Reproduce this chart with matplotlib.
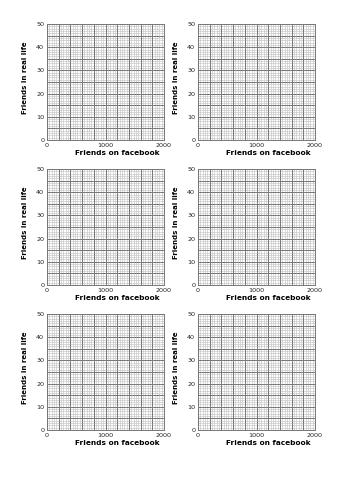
import matplotlib
matplotlib.use("Agg")
import matplotlib.pyplot as plt
import numpy as np

x_ticks = [0, 1000, 2000]
y_ticks = [0, 10, 20, 30, 40, 50]
x_label = "Friends on facebook"
y_label = "Friends in real life"
x_max = 2000
y_max = 50
x_major_step = 200
y_major_step = 5
minor_div = 5

fig = plt.figure(figsize=(3.54, 5.0), dpi=100)
fig.patch.set_facecolor("white")

lefts = [47 / 354, 198 / 354]
width = 117 / 354
row_tops = [24, 169, 314]
height = 116 / 500

for top in row_tops:
    for left in lefts:
        bottom = 1 - (top + 116) / 500
        ax = fig.add_axes([left, bottom, width, height])
        ax.set_xlim(0, x_max)
        ax.set_ylim(0, y_max)
        # minor grid
        for xv in np.arange(0, x_max + 1, x_major_step / minor_div):
            ax.axvline(xv, color="#c4c4c4", lw=0.45, zorder=1)
        for yv in np.arange(0, y_max + 0.01, y_major_step / minor_div):
            ax.axhline(yv, color="#c4c4c4", lw=0.45, zorder=1)
        for xv in np.arange(0, x_max + 1, x_major_step):
            ax.axvline(xv, color="#777777", lw=0.7, zorder=2)
        for yv in np.arange(0, y_max + 0.01, y_major_step):
            ax.axhline(yv, color="#777777", lw=0.7, zorder=2)
        ax.set_xticks(x_ticks)
        ax.set_yticks(y_ticks)
        ax.set_xticklabels([str(v) for v in x_ticks], fontsize=4.6)
        ax.set_yticklabels([str(v) for v in y_ticks], fontsize=4.6)
        ax.tick_params(length=0, pad=2, colors="#222222")
        for s in ax.spines.values():
            s.set_color("#777777")
            s.set_linewidth(0.7)
        ax.set_xlabel(x_label, fontsize=5.3, fontweight="bold")
        ax.xaxis.set_label_coords(0.6, -0.09, transform=ax.transAxes)
        ax.xaxis.label.set_va("top")
        ax.set_ylabel(y_label, fontsize=5.0, fontweight="bold")
        ax.yaxis.set_label_coords(-0.16, 0.54, transform=ax.transAxes)

fig.savefig("out.png", dpi=100, facecolor="white")
